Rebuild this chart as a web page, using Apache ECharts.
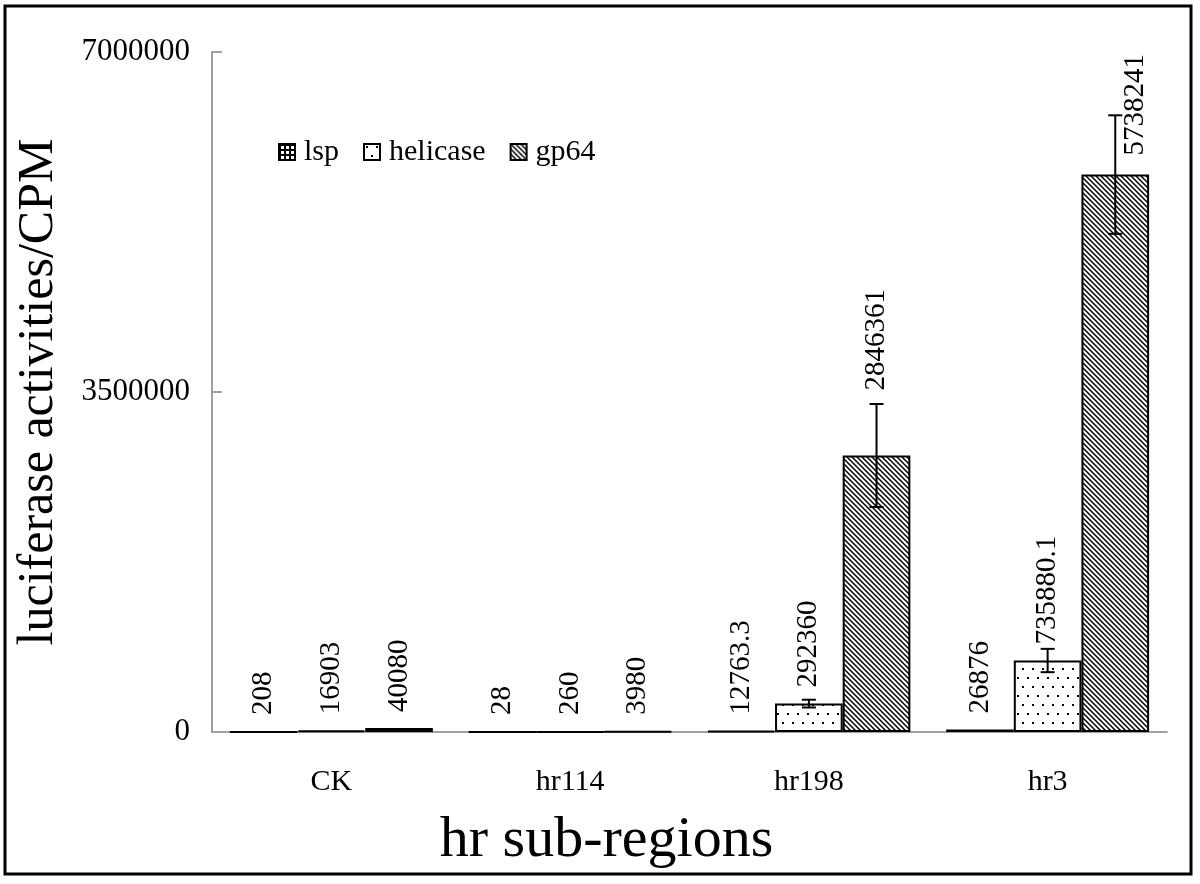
<!DOCTYPE html>
<html>
<head>
<meta charset="utf-8">
<script src="https://cdn.jsdelivr.net/npm/echarts@6/dist/echarts.min.js"></script>
<style>
html,body{margin:0;padding:0;background:#fff;}
#chart{width:1200px;height:884px;}
</style>
</head>
<body>
<div id="chart"></div>
<script>
// data
var regions = ['CK', 'hr114', 'hr198', 'hr3'];
var lspVals = [208, 28, 12763.3, 26876];
var helicaseVals = [16903, 260, 292360, 735880.1];
var gp64Vals = [40080, 3980, 2846361, 5738241];
var helicaseErr = [0, 0, 40000, 120000];
var gp64Err = [0, 0, 530000, 610000];
var yTicks = [0, 3500000, 7000000];

var serif = '"Liberation Serif", "Times New Roman", serif';
var catGap = 0.15;

// fill patterns (canvas tiles)
function tile(w, h, draw) {
	var c = document.createElement('canvas');
	c.width = w; c.height = h;
	var ctx = c.getContext('2d');
	ctx.fillStyle = '#fff';
	ctx.fillRect(0, 0, w, h);
	draw(ctx);
	return {image: c, repeat: 'repeat'};
}
var gridFill = tile(5, 5, function(ctx){
	ctx.fillStyle = '#000';
	ctx.fillRect(0, 0, 5, 2);
	ctx.fillRect(0, 0, 2, 5);
});
var dotFill = tile(10, 18, function(ctx){
	ctx.fillStyle = '#000';
	ctx.fillRect(2, 2, 2, 2);
	ctx.fillRect(7, 11, 2, 2);
});
var hatchFill = tile(5, 5, function(ctx){
	ctx.strokeStyle = '#000';
	ctx.lineWidth = 1.5;
	for (var k = -1; k <= 1; k++) {
		ctx.beginPath();
		ctx.moveTo(k * 5 - 1, -1);
		ctx.lineTo(k * 5 + 6, 6);
		ctx.stroke();
	}
});

var labelBase = {
	show: true,
	position: 'top',
	rotate: 90,
	align: 'left',
	verticalAlign: 'middle',
	distance: 16,
	fontFamily: serif,
	fontSize: 29,
	color: '#000'
};

function barSeries(name, vals, fill) {
	return {
		name: name,
		type: 'bar',
		barGap: '0%',
		barCategoryGap: (catGap * 100) + '%',
		itemStyle: {color: fill, borderColor: '#000', borderWidth: 2},
		label: labelBase,
		data: vals.slice()
	};
}

var gpSeries = barSeries('gp64', gp64Vals, hatchFill);
// two labels were moved by hand in the original
gpSeries.data[2] = {value: gp64Vals[2], label: {distance: 65}};
gpSeries.data[3] = {value: gp64Vals[3], label: {distance: 19, offset: [0, 20]}};

function errSeries(vals, errs, slot) {
	var d = [];
	for (var i = 0; i < vals.length; i++) d.push([i, vals[i], errs[i]]);
	return {
		type: 'custom',
		silent: true,
		z: 10,
		renderItem: function(params, api) {
			var err = api.value(2);
			if (!err) return;
			var band = api.size([1, 0])[0];
			var bw = band * (1 - catGap) / 3;
			var x = api.coord([api.value(0), 0])[0] + slot * bw;
			var top = api.coord([api.value(0), api.value(1) + err])[1];
			var bot = api.coord([api.value(0), api.value(1) - err])[1];
			var cap = 7;
			var st = {stroke: '#000', lineWidth: 2};
			return {
				type: 'group',
				children: [
					{type: 'line', shape: {x1: x, y1: top, x2: x, y2: bot}, style: st},
					{type: 'line', shape: {x1: x - cap, y1: top, x2: x + cap, y2: top}, style: st},
					{type: 'line', shape: {x1: x - cap, y1: bot, x2: x + cap, y2: bot}, style: st}
				]
			};
		},
		data: d
	};
}

var myChart = echarts.init(document.getElementById('chart'));
var option = {
	backgroundColor: '#fff',
	animation: false,
	grid: {left: 212, right: 33, top: 52, bottom: 152},
	legend: {
		data: ['lsp', 'helicase', 'gp64'],
		left: 273,
		top: 132,
		icon: 'rect',
		itemWidth: 16,
		itemHeight: 16,
		itemGap: 24,
		textStyle: {fontFamily: serif, fontSize: 30, color: '#000', padding: [0, 0, 0, 4]}
	},
	xAxis: {
		type: 'category',
		data: regions,
		axisLine: {lineStyle: {color: '#a0a0a0', width: 2}},
		axisTick: {inside: true, length: 10, lineStyle: {color: '#a0a0a0', width: 2}},
		axisLabel: {fontFamily: serif, fontSize: 30, color: '#000', margin: 35},
		name: 'hr sub-regions',
		nameLocation: 'middle',
		nameGap: 80,
		nameTextStyle: {fontFamily: serif, fontSize: 58, color: '#000', padding: [0, 166, 0, 0]}
	},
	yAxis: {
		type: 'value',
		min: yTicks[0],
		max: yTicks[yTicks.length - 1],
		interval: yTicks[1] - yTicks[0],
		splitLine: {show: false},
		axisLine: {show: true, lineStyle: {color: '#a0a0a0', width: 2}},
		axisTick: {show: true, inside: true, length: 10, lineStyle: {color: '#a0a0a0', width: 2}},
		axisLabel: {fontFamily: serif, fontSize: 31, color: '#000', margin: 22, formatter: function(v){ return String(v); }},
		name: 'luciferase activities/CPM',
		nameLocation: 'middle',
		nameGap: 148,
		nameTextStyle: {fontFamily: serif, fontSize: 50, color: '#000'}
	},
	graphic: [{
		type: 'rect',
		shape: {x: 5, y: 6, width: 1186, height: 868},
		style: {fill: 'none', stroke: '#000', lineWidth: 3},
		silent: true
	}],
	series: [
		barSeries('lsp', lspVals, gridFill),
		barSeries('helicase', helicaseVals, dotFill),
		gpSeries,
		errSeries(helicaseVals, helicaseErr, 0),
		errSeries(gp64Vals, gp64Err, 1)
	]
};

// 使用刚指定的配置项和数据显示图表。
myChart.setOption(option);
</script>
</body>
</html>
